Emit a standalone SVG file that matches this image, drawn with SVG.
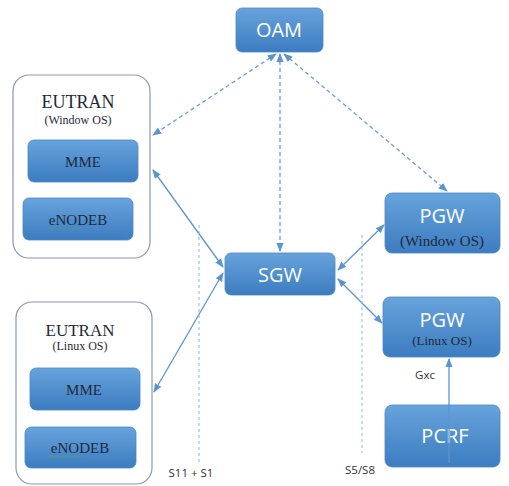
<svg xmlns="http://www.w3.org/2000/svg" width="509" height="486" viewBox="0 0 509 486">
<defs>
<linearGradient id="bg" x1="0" y1="0" x2="0" y2="1">
<stop offset="0" stop-color="#67a3dc"/>
<stop offset="1" stop-color="#3c7cc0"/>
</linearGradient>
<marker id="ah" viewBox="0 0 10 10" refX="9" refY="5" markerWidth="7" markerHeight="7" orient="auto-start-reverse">
<path d="M0,1 L10,5 L0,9 z" fill="#5b95d0"/>
</marker>
<style>
.box{fill:url(#bg);stroke:#4a86c5;stroke-width:0.8}
.cont{fill:#fff;stroke:#8a9aab;stroke-width:1.2}
.w{font-family:"Open Sans","Liberation Sans",sans-serif;fill:#fff;text-anchor:middle;font-size:20px}
.s{font-family:"Liberation Serif",serif;fill:#1f2a3a;text-anchor:middle}
.lbl{font-family:"Open Sans","Liberation Sans",sans-serif;fill:#333;font-size:11.5px;text-anchor:middle}
.solid{stroke:#5b95d0;stroke-width:1.3;fill:none}
.dash{stroke:#6a9fd6;stroke-width:1.3;fill:none;stroke-dasharray:4 3}
.dot{stroke:#8fb4dc;stroke-width:1;fill:none;stroke-dasharray:3 3}
</style>
</defs>
<rect width="509" height="486" fill="#fff"/>

<g id="eutran-win">
<rect class="cont" x="13" y="75" width="137" height="183" rx="16"/>
<text class="s" x="78" y="108" font-size="18">EUTRAN</text>
<text class="s" x="78" y="124" font-size="12">(Window OS)</text>
</g>
<g id="mme-win">
<rect class="box" x="28" y="140" width="110" height="42" rx="6"/>
<text class="s" x="83" y="167" font-size="15">MME</text>
</g>
<g id="enodeb-win">
<rect class="box" x="23" y="198" width="110" height="42" rx="6"/>
<text class="s" x="78" y="225" font-size="15">eNODEB</text>
<path d="M47,229 q1.5,-1.5 3,0 t3,0 t3,0 t3,0 t3,0 t3,0 t3,0 t3,0 t3,0 t3,0 t3,0" stroke="#5aa05a" stroke-width="0.7" fill="none"/>
</g>

<g id="eutran-linux">
<rect class="cont" x="16" y="302" width="136" height="182" rx="16"/>
<text class="s" x="80" y="336" font-size="17">EUTRAN</text>
<text class="s" x="80" y="350" font-size="12">(Linux OS)</text>
</g>
<g id="mme-linux">
<rect class="box" x="30" y="368" width="110" height="42" rx="6"/>
<text class="s" x="84" y="395" font-size="15">MME</text>
</g>
<g id="enodeb-linux">
<rect class="box" x="25" y="427" width="111" height="41" rx="6"/>
<text class="s" x="80" y="453" font-size="15">eNODEB</text>
<path d="M49,457 q1.5,-1.5 3,0 t3,0 t3,0 t3,0 t3,0 t3,0 t3,0 t3,0 t3,0 t3,0 t3,0" stroke="#5aa05a" stroke-width="0.7" fill="none"/>
</g>

<g id="oam">
<rect class="box" x="236" y="8" width="87" height="44" rx="6"/>
<text class="w" x="279" y="37">OAM</text>
</g>
<g id="sgw">
<rect class="box" x="225" y="253" width="110" height="42" rx="6"/>
<text class="w" x="280" y="282">SGW</text>
</g>
<g id="pgw-win">
<rect class="box" x="385" y="193" width="115" height="60" rx="7"/>
<text class="w" x="442" y="223">PGW</text>
<text class="s" x="442" y="246" font-size="15">(Window OS)</text>
</g>
<g id="pgw-linux">
<rect class="box" x="383" y="297" width="117" height="60" rx="7"/>
<text class="w" x="442" y="327">PGW</text>
<text class="s" x="442" y="345" font-size="13">(Linux OS)</text>
</g>
<g id="pcrf">
<rect class="box" x="385" y="405" width="115" height="62" rx="7"/>
<text class="w" x="445" y="443">PCRF</text>
</g>

<g id="connectors">
<line class="dash" x1="276" y1="54" x2="153" y2="135" marker-start="url(#ah)" marker-end="url(#ah)"/>
<line class="dash" x1="280" y1="54" x2="280" y2="251" marker-start="url(#ah)" marker-end="url(#ah)"/>
<line class="dash" x1="284" y1="54" x2="447" y2="191" marker-start="url(#ah)" marker-end="url(#ah)"/>
<line class="solid" x1="153" y1="170" x2="223" y2="267" marker-start="url(#ah)" marker-end="url(#ah)"/>
<line class="solid" x1="223" y1="273" x2="154" y2="392" marker-start="url(#ah)" marker-end="url(#ah)"/>
<line class="solid" x1="338" y1="270" x2="384" y2="225" marker-start="url(#ah)" marker-end="url(#ah)"/>
<line class="solid" x1="338" y1="279" x2="382" y2="323" marker-start="url(#ah)" marker-end="url(#ah)"/>
<line class="solid" x1="449" y1="463" x2="449" y2="359" marker-end="url(#ah)"/>
<line class="dot" x1="199" y1="225" x2="199" y2="462"/>
<line class="dot" x1="362" y1="235" x2="362" y2="453"/>
<text class="lbl" x="191" y="477">S11 + S1</text>
<text class="lbl" x="360" y="474">S5/S8</text>
<text class="lbl" x="425" y="379">Gxc</text>
</g>
</svg>
